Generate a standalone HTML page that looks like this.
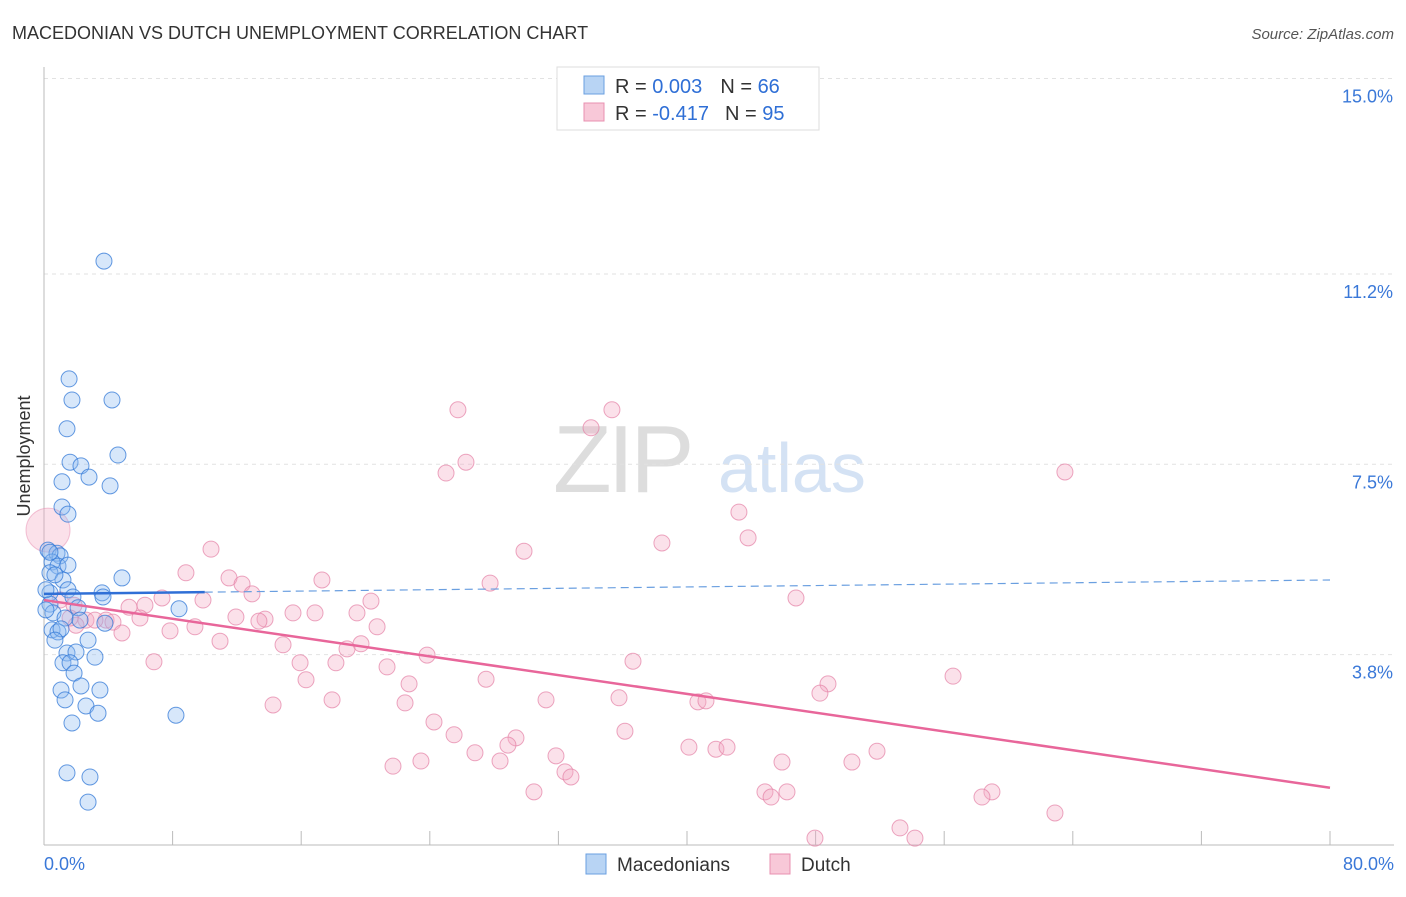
<!DOCTYPE html>
<html><head><meta charset="utf-8"><style>
body{margin:0;background:#fff;font-family:"Liberation Sans",sans-serif}
svg text{font-family:"Liberation Sans",sans-serif}
</style></head><body>
<svg id="chart" width="1406" height="892" xmlns="http://www.w3.org/2000/svg">
<text x="12" y="39" font-size="18" fill="#333">MACEDONIAN VS DUTCH UNEMPLOYMENT CORRELATION CHART</text>
<text x="1394" y="39" font-size="15" fill="#555" font-style="italic" text-anchor="end">Source: ZipAtlas.com</text>
<text x="30" y="456" font-size="18" fill="#333" text-anchor="middle" transform="rotate(-90 30 456)">Unemployment</text>
<g><text x="553" y="492" font-size="96" fill="#ddd" font-family="Liberation Serif" letter-spacing="-4">ZIP</text><text x="718" y="492" font-size="70" fill="#d4e2f4">atlas</text></g>
<g id="grid"></g><g id="axes"></g><g id="marks"></g>
<g>
<rect x="557" y="67" width="262" height="63" fill="#fff" stroke="#ddd"/>
<rect x="584" y="76" width="20" height="18" fill="#b8d4f4" stroke="#6a9fe0"/>
<rect x="584" y="103" width="20" height="18" fill="#f8c8d8" stroke="#e890b0"/>
<text x="615" y="93" font-size="20" fill="#333">R = <tspan fill="#2f6fd6">0.003</tspan><tspan dx="18">N = </tspan><tspan fill="#2f6fd6">66</tspan></text>
<text x="615" y="120" font-size="20" fill="#333">R = <tspan fill="#2f6fd6">-0.417</tspan><tspan dx="16">N = </tspan><tspan fill="#2f6fd6">95</tspan></text>
</g>
<g>
<rect x="586" y="854" width="20" height="20" fill="#b8d4f4" stroke="#6a9fe0"/>
<text x="617" y="871" font-size="19" fill="#333">Macedonians</text>
<rect x="770" y="854" width="20" height="20" fill="#f8c8d8" stroke="#e890b0"/>
<text x="801" y="871" font-size="19" fill="#333">Dutch</text>
</g>
</svg>
<script>
const yTicks=[15.0,11.2,7.5,3.8];
const yTickLabels=["15.0%","11.2%","7.5%","3.8%"];
const xTickVals=[0,8,16,24,32,40,48,56,64,72,80];
const xEndLabels=["0.0%","80.0%"];
const macX=[3.73,1.56,1.74,4.23,1.43,4.60,1.62,2.30,2.80,4.11,1.12,1.12,1.49,0.25,0.81,1.00,0.50,0.87,1.49,0.37,1.18,4.85,3.61,0.37,1.49,1.80,3.67,0.37,2.12,8.40,0.56,1.31,2.24,3.79,0.50,0.87,1.06,0.68,2.74,1.43,1.99,3.17,1.18,1.62,1.87,1.06,2.30,3.48,2.61,3.36,1.31,1.74,8.21,1.43,2.86,2.74,0.12,0.12,0.68,0.37];
const macY=[11.45,9.16,8.75,8.75,8.19,7.68,7.54,7.47,7.25,7.08,7.16,6.67,6.53,5.83,5.77,5.72,5.60,5.52,5.54,5.39,5.25,5.29,5.00,5.00,5.06,4.92,4.92,4.78,4.71,4.69,4.61,4.51,4.47,4.41,4.28,4.24,4.30,4.08,4.08,3.83,3.85,3.75,3.64,3.64,3.44,3.11,3.19,3.11,2.80,2.66,2.92,2.47,2.62,1.50,1.42,0.93,4.67,5.06,5.35,5.79];
const dutX=[25.75,35.33,34.03,26.25,25.01,63.51,43.23,43.80,38.44,29.86,10.39,8.83,11.51,12.32,17.29,27.75,12.94,7.34,9.89,6.28,5.29,20.34,46.78,11.94,13.75,13.37,15.49,16.86,19.47,3.86,4.29,5.97,2.61,1.99,9.39,7.84,4.85,20.72,10.95,14.87,19.72,18.85,23.83,36.64,6.84,15.93,18.16,21.34,16.30,27.50,56.55,22.71,48.77,48.27,14.25,17.92,22.46,31.23,35.77,40.68,41.18,24.26,36.14,25.51,29.36,28.86,26.81,40.12,41.80,42.49,51.82,31.85,28.37,23.45,21.71,45.91,50.26,32.41,32.78,30.48,44.85,45.23,46.22,58.97,58.35,62.89,47.96,53.25,54.18,1.87,1.00,1.62,3.17];
const dutY=[8.56,8.56,8.21,7.54,7.33,7.35,6.57,6.07,5.97,5.81,5.85,5.39,5.29,5.17,5.25,5.19,4.98,4.90,4.86,4.76,4.72,4.84,4.90,4.53,4.49,4.45,4.61,4.61,4.61,4.47,4.43,4.51,4.47,4.37,4.34,4.26,4.22,4.34,4.06,3.99,4.01,3.91,3.79,3.67,3.66,3.64,3.64,3.56,3.31,3.32,3.38,3.23,3.23,3.05,2.82,2.92,2.86,2.92,2.96,2.88,2.90,2.49,2.31,2.24,2.18,2.04,1.89,2.00,1.96,2.00,1.92,1.83,1.73,1.73,1.63,1.71,1.71,1.52,1.42,1.13,1.13,1.03,1.13,1.13,1.03,0.72,0.23,0.43,0.23,4.76,4.86,4.51,4.47];
const macTrend=[4.98,5.25];
const dutTrend=[4.86,1.21];
const bigDutch=[0.25,6.22];

const NS="http://www.w3.org/2000/svg";
const X=v=>44+v*16.075, Y=v=>850-v*51.43;
function mk(t,a,p){const e=document.createElementNS(NS,t);for(const k in a)e.setAttribute(k,a[k]);p.appendChild(e);return e;}
const grid=document.getElementById('grid'),axes=document.getElementById('axes'),marks=document.getElementById('marks');
yTicks.forEach((v,i)=>{
 const l=mk('line',{x1:44,x2:1394,y1:Y(v),y2:Y(v),stroke:'#e2e2e2','stroke-dasharray':'4,4'},grid);
 
 
 const t=mk('text',{x:1393,y:Y(v)+24,'font-size':18,fill:'#3a78d8','text-anchor':'end'},axes);t.textContent=yTickLabels[i];
 
 
});
let a=mk('line',{x1:44,x2:44,y1:67,y2:845,stroke:'#bbb'},axes);


a=mk('line',{x1:44,x2:1394,y1:845,y2:845,stroke:'#bbb'},axes);


xTickVals.forEach(v=>{const t=mk('line',{x1:X(v),x2:X(v),y1:831,y2:845,stroke:'#bbb'},axes);
 
 });
let t=mk('text',{x:44,y:870,'font-size':18,fill:'#3a78d8'},axes);t.textContent=xEndLabels[0];


t=mk('text',{x:1394,y:870,'font-size':18,fill:'#3a78d8','text-anchor':'end'},axes);t.textContent=xEndLabels[1];


let b=mk('circle',{cx:X(bigDutch[0]),cy:Y(bigDutch[1]),r:22,fill:'rgba(244,170,195,0.35)',stroke:'rgba(232,140,175,0.5)'},marks);


dutX.forEach((x,i)=>{const c=mk('circle',{cx:X(x),cy:Y(dutY[i]),r:8,fill:'rgba(244,170,195,0.35)','stroke':'rgba(228,128,165,0.7)','stroke-width':1},marks);
 
 });
macX.forEach((x,i)=>{const c=mk('circle',{cx:X(x),cy:Y(macY[i]),r:8,fill:'rgba(140,185,240,0.35)','stroke':'rgba(50,120,215,0.75)','stroke-width':1},marks);
 
 });
const slope=(macTrend[1]-macTrend[0])/80;
let l=mk('line',{x1:X(0),y1:Y(macTrend[0]),x2:X(10),y2:Y(macTrend[0]+slope*10),stroke:'#2f6fd6','stroke-width':2.5},marks);


l=mk('line',{x1:X(10),y1:Y(macTrend[0]+slope*10),x2:X(80),y2:Y(macTrend[1]),stroke:'#6a9fe0','stroke-width':1.2,'stroke-dasharray':'8,5'},marks);


l=mk('line',{x1:X(0),y1:Y(dutTrend[0]),x2:X(80),y2:Y(dutTrend[1]),stroke:'#e8669a','stroke-width':2.5},marks);


</script>
</body></html>
